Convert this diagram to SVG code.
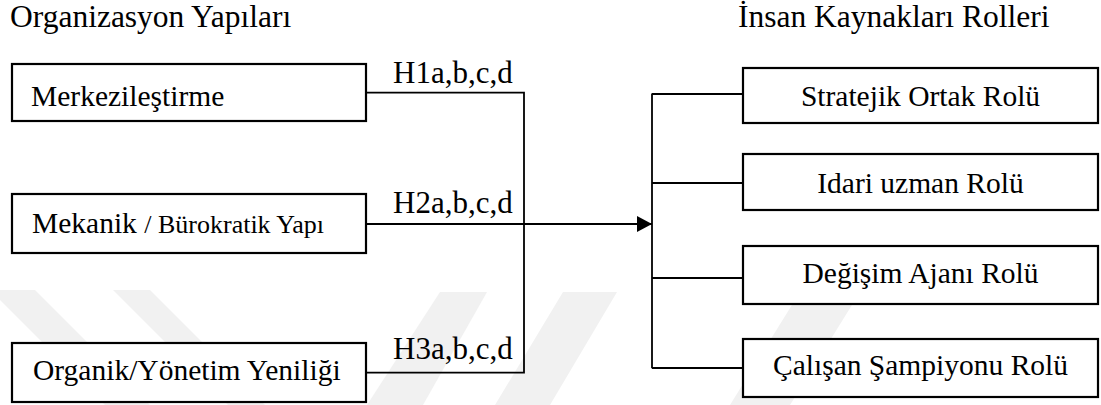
<svg xmlns="http://www.w3.org/2000/svg" width="1101" height="405" viewBox="0 0 1101 405">
  <defs>
    <style>
      text { font-family: "Liberation Serif", "DejaVu Serif", serif; fill: #000; }
      .title { font-size: 31.5px; }
      .lbl { font-size: 31px; }
      .box-text { font-size: 29.5px; }
      .box { fill: #fff; stroke: #000; stroke-width: 2.2; }
      .wire { fill: none; stroke: #000; stroke-width: 1.8; }
      .wm { fill: #f1f1f1; }
    </style>
    <marker id="arrow" markerWidth="16" markerHeight="16" refX="15" refY="8" orient="auto" markerUnits="userSpaceOnUse">
      <path d="M0,0 L15,8 L0,16 Z" fill="#000"/>
    </marker>
  </defs>

  <rect width="1101" height="405" fill="#fff"/>

  <!-- faint background chevrons -->
  <g id="background-marks">
    <polygon class="wm" points="-10,290 35,290 150,405 105,405"/>
    <polygon class="wm" points="113,290 150,290 265,405 228,405"/>
    <polygon class="wm" points="440,292 487,292 423,405 367,405"/>
    <polygon class="wm" points="563,292 617,292 550,405 495,405"/>
    <polygon class="wm" points="800,292 860,292 790,405 730,405"/>
  </g>

  <!-- titles -->
  <text class="title" x="10" y="27" font-family="Liberation Serif, serif">Organizasyon Yapıları</text>
  <text class="title" x="738" y="27" font-family="Liberation Serif, serif">İnsan Kaynakları Rolleri</text>

  <!-- connectors -->
  <g id="connectors">
    <polyline class="wire" points="366,92.7 524,92.7 524,372.7 366,372.7"/>
    <line class="wire" x1="366" y1="224" x2="652" y2="224" marker-end="url(#arrow)"/>
    <line class="wire" x1="652" y1="93.5" x2="652" y2="368.3"/>
    <line class="wire" x1="652" y1="94" x2="743" y2="94"/>
    <line class="wire" x1="652" y1="183" x2="743" y2="183"/>
    <line class="wire" x1="652" y1="278" x2="743" y2="278"/>
    <line class="wire" x1="652" y1="368" x2="743" y2="368"/>
    <text class="lbl" x="393" y="83">H1a,b,c,d</text>
    <text class="lbl" x="393" y="213">H2a,b,c,d</text>
    <text class="lbl" x="393" y="359">H3a,b,c,d</text>
  </g>

  <!-- organisation structures -->
  <g id="merkezilestirme">
    <rect class="box" x="12" y="64" width="354" height="57"/>
    <text class="box-text" x="31" y="106">Merkezileştirme</text>
  </g>
  <g id="mekanik">
    <rect class="box" x="12" y="194" width="354" height="59"/>
    <text x="32" y="233"><tspan font-size="29.5">Mekanik </tspan><tspan font-size="26">/ Bürokratik Yapı</tspan></text>
  </g>
  <g id="organik">
    <rect class="box" x="12" y="343" width="354" height="59"/>
    <text class="box-text" x="33" y="380">Organik/Yönetim Yeniliği</text>
  </g>

  <!-- HR roles -->
  <g id="stratejik-ortak">
    <rect class="box" x="743" y="68" width="355" height="55"/>
    <text class="box-text" x="920.5" y="106" text-anchor="middle">Stratejik Ortak Rolü</text>
  </g>
  <g id="idari-uzman">
    <rect class="box" x="743" y="154" width="355" height="56"/>
    <text class="box-text" x="920.5" y="192.5" text-anchor="middle">Idari uzman Rolü</text>
  </g>
  <g id="degisim-ajani">
    <rect class="box" x="743" y="246" width="355" height="58"/>
    <text class="box-text" x="920.5" y="283" text-anchor="middle">Değişim Ajanı Rolü</text>
  </g>
  <g id="calisan-sampiyonu">
    <rect class="box" x="743" y="339" width="355" height="58"/>
    <text class="box-text" x="920.5" y="375" text-anchor="middle">Çalışan Şampiyonu Rolü</text>
  </g>
</svg>
